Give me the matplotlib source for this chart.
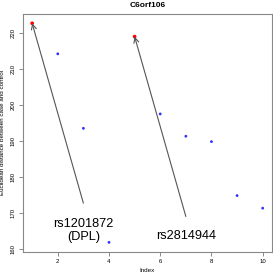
import matplotlib
matplotlib.use('Agg')
import matplotlib.pyplot as plt

plt.rcParams['font.family'] = ['Liberation Sans', 'DejaVu Sans']

index = [1, 2, 3, 4, 5, 6, 7, 8, 9, 10]
dist = [222.8, 214.3, 193.6, 161.9, 219.1, 197.6, 191.4, 189.9, 174.9, 171.4]
highlight = [1, 5]
labels = ['rs1201872\n(DPL)', 'rs2814944']
label_pos = [(3.0, 165.2), (7.0, 163.7)]
arrow_start = [(3.0, 172.8), (7.0, 169.1)]

fig = plt.figure(figsize=(2.73, 2.73), dpi=100)
ax = fig.add_axes([0.084, 0.078, 0.912, 0.871])

colors = ['red' if i in highlight else '#3030ff' for i in index]
sizes = [7 if i in highlight else 4 for i in index]
ax.scatter(index, dist, c=colors, s=sizes, marker='o', linewidths=0, zorder=3)

for h, lab, lp, st in zip(highlight, labels, label_pos, arrow_start):
    ax.annotate('', xy=(h, dist[h - 1]), xytext=st,
                arrowprops=dict(arrowstyle='->', color='#555555', lw=0.8,
                                shrinkA=0, shrinkB=0, mutation_scale=9))
    ax.text(lp[0], lp[1], lab, ha='center', va='center', fontsize=9.2,
            linespacing=1.15)

ax.set_xlim(0.64, 10.36)
ax.set_ylim(159.3, 225.4)
ax.set_xticks([2, 4, 6, 8, 10])
ax.set_yticks([160, 170, 180, 190, 200, 210, 220])
for lab in ax.get_yticklabels():
    lab.set_rotation(90)
    lab.set_va('center')
ax.tick_params(labelsize=4.3, length=3, width=0.6, color='#777777', pad=2)
for s in ax.spines.values():
    s.set_color('#888888')
    s.set_linewidth(0.8)

ax.set_xlabel('Index', fontsize=4.5, labelpad=3)
ax.set_ylabel('Euclidean distance between case and control', fontsize=4.5, labelpad=4)
ax.set_title('C6orf106', fontsize=6, fontweight='bold', pad=5)

fig.savefig('out.png', dpi=100)
